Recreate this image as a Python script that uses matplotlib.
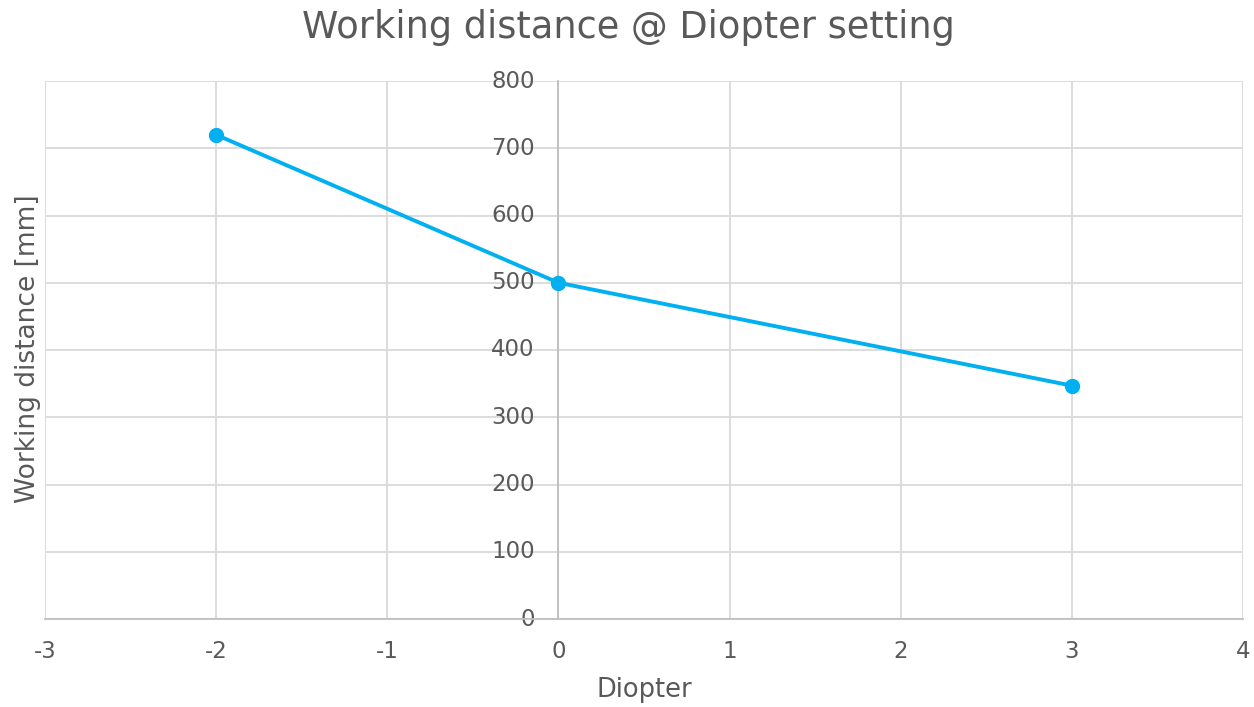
import matplotlib
matplotlib.use("Agg")
import matplotlib.pyplot as plt

diopter = [-2, 0, 3]
working_distance = [720, 500, 347]
x_ticks = [-3, -2, -1, 0, 1, 2, 3, 4]
y_ticks = [0, 100, 200, 300, 400, 500, 600, 700, 800]

text_color = "#595959"
line_color = "#00B0F0"

plt.rcParams['font.family'] = ['DejaVu Sans']
fig = plt.figure(figsize=(12.54, 7.07), dpi=100)
ax = fig.add_axes([45/1254, 88/707, (1243-45)/1254, (619-81)/707])

ax.plot(diopter, working_distance, color=line_color, lw=2.8, marker='o', ms=10,
        zorder=5, clip_on=False)

ax.set_xlim(-3, 4)
ax.set_ylim(0, 800)
ax.set_xticks(x_ticks)
ax.set_yticks(y_ticks)
ax.set_xticklabels([str(v) for v in x_ticks])
ax.set_yticklabels([str(v) for v in y_ticks])

ax.grid(True, color="#d9d9d9", lw=1.3)
ax.set_axisbelow(True)

for s in ['top', 'right']:
    ax.spines[s].set_visible(False)
ax.spines['left'].set_position(('data', 0))
ax.spines['left'].set_color("#bfbfbf")
ax.spines['left'].set_linewidth(1.3)
ax.spines['bottom'].set_color("#bfbfbf")
ax.spines['bottom'].set_linewidth(1.3)

ax.tick_params(axis='both', length=0, labelsize=16.5, colors=text_color)
ax.tick_params(axis='y', pad=17)
ax.tick_params(axis='x', pad=15)
for lbl in ax.get_yticklabels():
    lbl.set_verticalalignment('center')

ax.set_xlabel("Diopter", fontsize=18.5, color=text_color, labelpad=10)
fig.text(28/1254, 1 - 349/707, "Working distance [mm]", rotation=90,
         fontsize=19, color=text_color, ha='center', va='center')
fig.text(628/1254, 1 - 27/707, "Working distance @ Diopter setting",
         fontsize=26.5, color=text_color, ha='center', va='center')

fig.savefig("out.png", dpi=100)
